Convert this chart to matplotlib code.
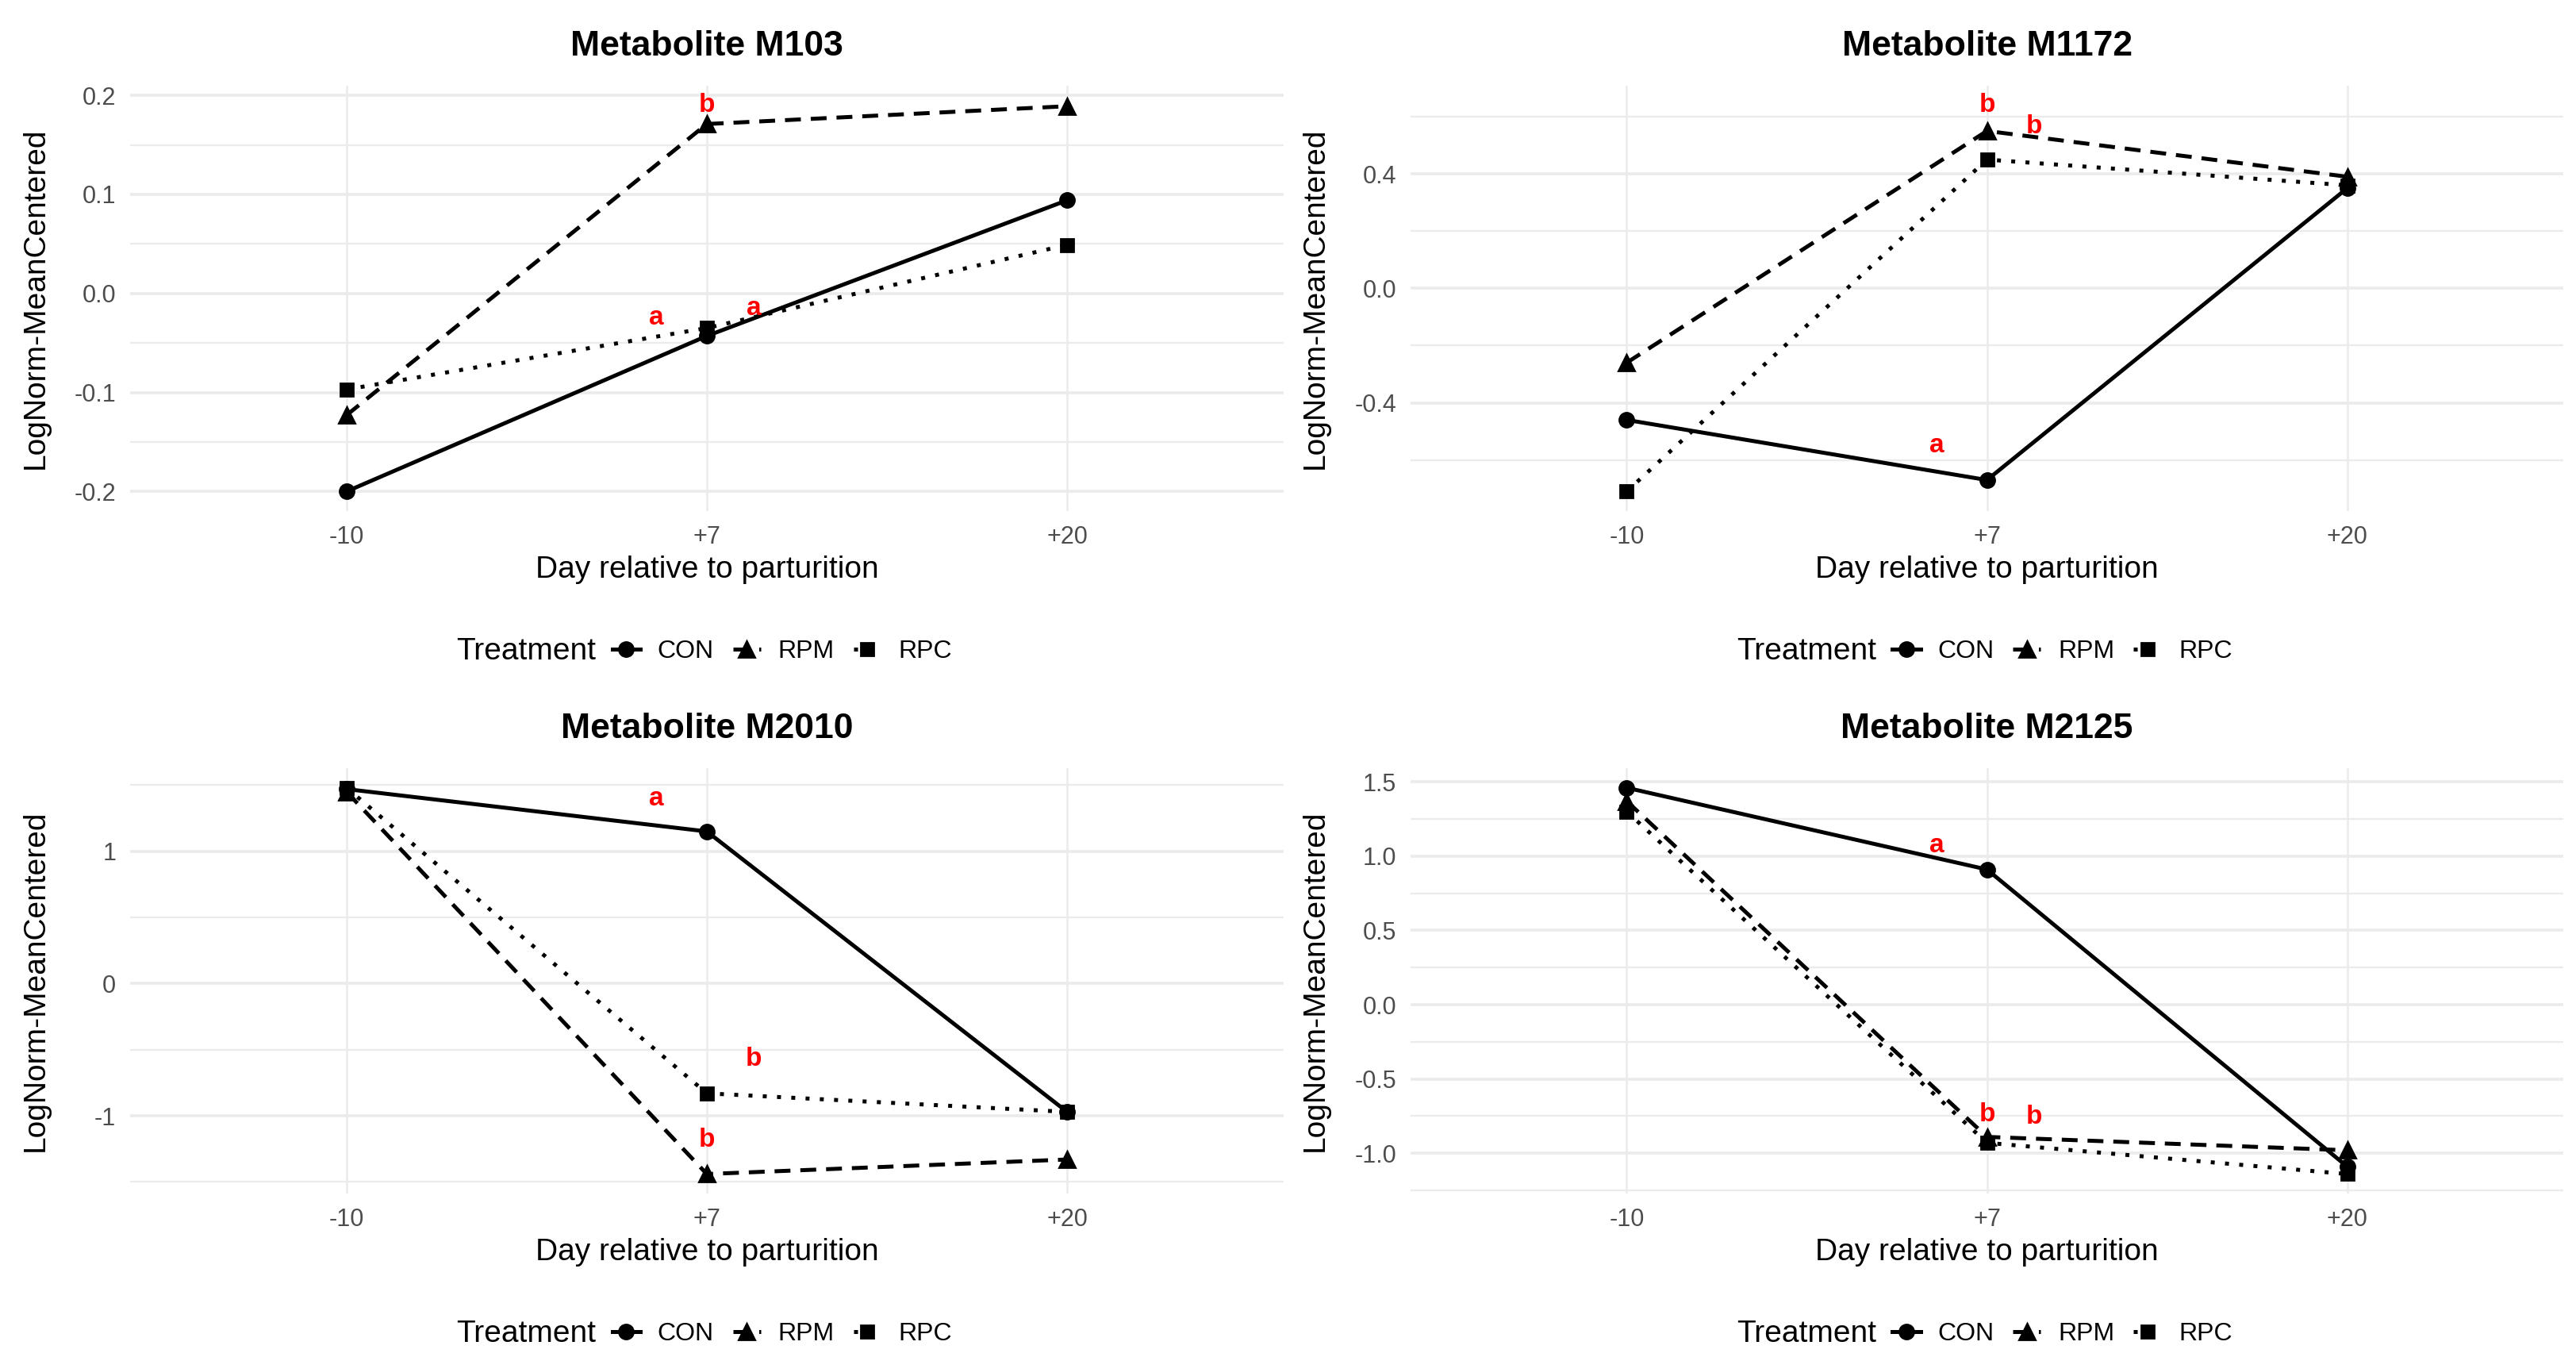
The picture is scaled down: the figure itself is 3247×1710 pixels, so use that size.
#!/usr/bin/env python3
"""Metabolite profiles by treatment around parturition (2x2 panels)."""

import matplotlib

matplotlib.use("Agg")
import matplotlib.pyplot as plt
from matplotlib.lines import Line2D
from matplotlib.ticker import AutoMinorLocator


DAYS = ["-10", "+7", "+20"]
TREATMENTS = ["CON", "RPM", "RPC"]

# M103
M103_CON = [-0.200, -0.043, 0.094]
M103_RPM = [-0.123, 0.171, 0.189]
M103_RPC = [-0.097, -0.035, 0.049]
M103_LETTERS = ["b", "a", "a"]
M103_LETTER_X = [2.0, 1.86, 2.13]
M103_LETTER_Y = [0.190, -0.025, -0.015]
M103_TICKS = [-0.2, -0.1, 0.0, 0.1, 0.2]
M103_TICK_LABELS = ["-0.2", "-0.1", "0.0", "0.1", "0.2"]

# M1172
M1172_CON = [-0.46, -0.67, 0.35]
M1172_RPM = [-0.26, 0.55, 0.39]
M1172_RPC = [-0.71, 0.45, 0.36]
M1172_LETTERS = ["b", "b", "a"]
M1172_LETTER_X = [2.0, 2.13, 1.86]
M1172_LETTER_Y = [0.64, 0.565, -0.55]
M1172_TICKS = [-0.4, 0.0, 0.4]
M1172_TICK_LABELS = ["-0.4", "0.0", "0.4"]

# M2010
M2010_CON = [1.47, 1.15, -0.97]
M2010_RPM = [1.45, -1.44, -1.33]
M2010_RPC = [1.48, -0.83, -0.97]
M2010_LETTERS = ["a", "b", "b"]
M2010_LETTER_X = [1.86, 2.13, 2.0]
M2010_LETTER_Y = [1.40, -0.57, -1.18]
M2010_TICKS = [-1, 0, 1]
M2010_TICK_LABELS = ["-1", "0", "1"]

# M2125
M2125_CON = [1.46, 0.91, -1.09]
M2125_RPM = [1.37, -0.89, -0.98]
M2125_RPC = [1.30, -0.93, -1.14]
M2125_LETTERS = ["a", "b", "b"]
M2125_LETTER_X = [1.86, 2.0, 2.13]
M2125_LETTER_Y = [1.07, -0.74, -0.755]
M2125_TICKS = [-1.0, -0.5, 0.0, 0.5, 1.0, 1.5]
M2125_TICK_LABELS = ["-1.0", "-0.5", "0.0", "0.5", "1.0", "1.5"]

PANELS = [
    ("M103", [M103_CON, M103_RPM, M103_RPC], M103_LETTERS, M103_LETTER_X,
     M103_LETTER_Y, M103_TICKS, M103_TICK_LABELS),
    ("M1172", [M1172_CON, M1172_RPM, M1172_RPC], M1172_LETTERS, M1172_LETTER_X,
     M1172_LETTER_Y, M1172_TICKS, M1172_TICK_LABELS),
    ("M2010", [M2010_CON, M2010_RPM, M2010_RPC], M2010_LETTERS, M2010_LETTER_X,
     M2010_LETTER_Y, M2010_TICKS, M2010_TICK_LABELS),
    ("M2125", [M2125_CON, M2125_RPM, M2125_RPC], M2125_LETTERS, M2125_LETTER_X,
     M2125_LETTER_Y, M2125_TICKS, M2125_TICK_LABELS),
]

LINESTYLES = ["-", (0, (4.0, 2.5)), (0, (1.0, 2.6))]
MARKERS = ["o", "^", "s"]
MARKER_SIZES = [6.5, 7.0, 6.0]
LINE_WIDTH = 1.8

# axes boxes in figure fraction [left, bottom, width, height]
AX_BOXES = [
    [0.0506, 0.6236, 0.4474, 0.3131],
    [0.5474, 0.6236, 0.4474, 0.3131],
    [0.0506, 0.1206, 0.4474, 0.3131],
    [0.5474, 0.1206, 0.4474, 0.3131],
]

GRID = "#ebebeb"
TEXT_GREY = "#4d4d4d"


def draw_panel(ax, name, series, letters, letter_x, letter_y, ticks, tick_labels):
    x = [1, 2, 3]
    for values, ls, mk, ms in zip(series, LINESTYLES, MARKERS, MARKER_SIZES):
        ax.plot(x, values, linestyle=ls, marker=mk, markersize=ms,
                color="black", linewidth=LINE_WIDTH, zorder=3)
    for lab, lx, ly in zip(letters, letter_x, letter_y):
        ax.text(lx, ly, lab, color="red", fontsize=12, fontweight="bold",
                ha="center", va="center", zorder=4)

    # ggplot-like 5% expansion over points and labels
    all_y = [v for s in series for v in s] + list(letter_y)
    lo, hi = min(all_y), max(all_y)
    pad = 0.05 * (hi - lo)
    ax.set_ylim(lo - pad, hi + pad)
    ax.set_xlim(0.4, 3.6)

    ax.set_xticks(x, labels=DAYS)
    ax.set_yticks(ticks, labels=tick_labels)
    ax.yaxis.set_minor_locator(AutoMinorLocator(2))
    ax.tick_params(axis="both", which="both", length=0, pad=6.5,
                   labelsize=11, labelcolor=TEXT_GREY)

    ax.grid(True, axis="y", which="major", color=GRID, linewidth=1.3, zorder=0)
    ax.grid(True, axis="y", which="minor", color=GRID, linewidth=0.8, zorder=0)
    ax.grid(True, axis="x", which="major", color=GRID, linewidth=0.9, zorder=0)
    ax.set_axisbelow(True)
    for spine in ax.spines.values():
        spine.set_visible(False)

    ax.set_title(f"Metabolite {name}", fontsize=16, fontweight="bold",
                 y=1.093, va="center", pad=0)
    ax.set_xlabel("Day relative to parturition", fontsize=14)
    ax.xaxis.set_label_coords(0.5, -0.105)
    ax.set_ylabel("LogNorm-MeanCentered", fontsize=14)
    ax.yaxis.set_label_coords(-0.070, 0.5)

    handles = [
        Line2D([], [], color="black", linestyle=ls, linewidth=LINE_WIDTH,
               marker=mk, markersize=ms)
        for ls, mk, ms in zip(LINESTYLES, MARKERS, MARKER_SIZES)
    ]
    ax.text(0.404, -0.331, "Treatment", transform=ax.transAxes,
            fontsize=14, ha="right", va="center")
    ax.legend(handles, TREATMENTS, loc="center left",
              bbox_to_anchor=(0.418, -0.331), ncol=3, frameon=False,
              fontsize=11.5, handlelength=1.1, handletextpad=0.68,
              columnspacing=0.75, borderpad=0, borderaxespad=0)


def main() -> None:
    plt.rcParams.update(
        {
            "font.family": ["Liberation Sans", "DejaVu Sans"],
            "axes.unicode_minus": False,
        }
    )
    fig = plt.figure(figsize=(16.24, 8.55), dpi=200)
    for box, panel in zip(AX_BOXES, PANELS):
        ax = fig.add_axes(box)
        draw_panel(ax, *panel)
    fig.savefig("out.png", dpi=200, facecolor="white")


if __name__ == "__main__":
    main()
